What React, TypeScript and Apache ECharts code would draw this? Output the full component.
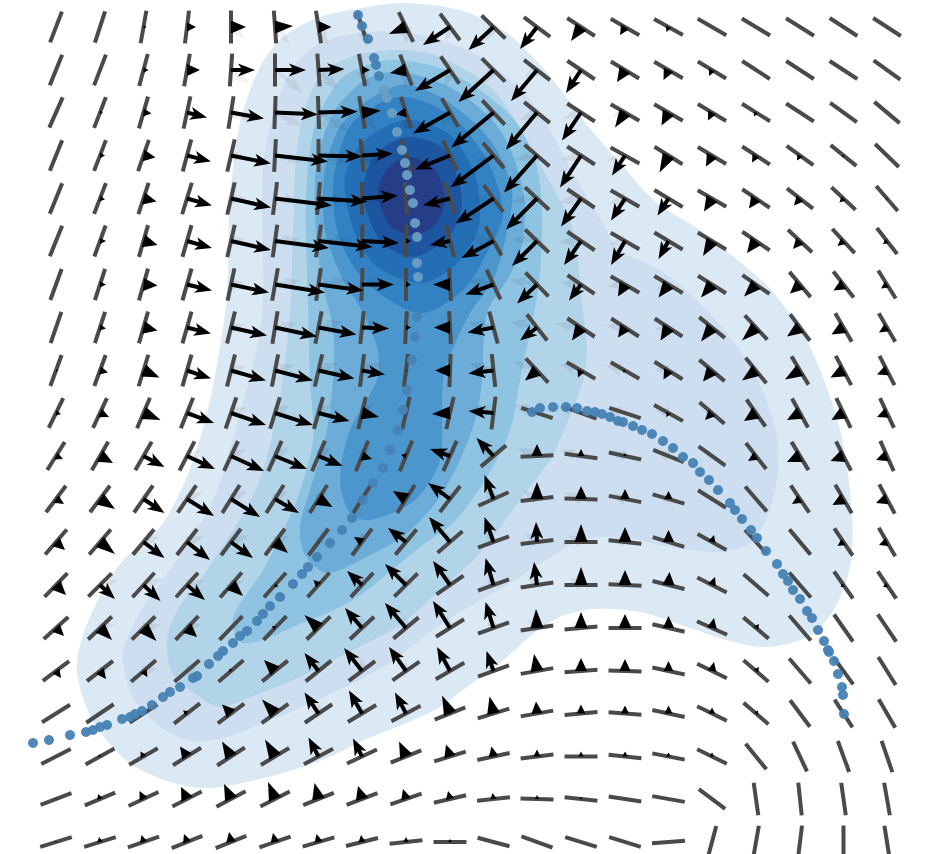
import React, { useEffect, useRef } from "react";
import * as echarts from "echarts";

const colX = [56, 100, 143.5, 187, 231, 275, 318.5, 362, 406, 450, 493.5, 537, 581, 625, 668.5, 712, 756, 800, 843.5, 887];
const rowY = [27, 70, 112.5, 155.5, 198.5, 241, 284.5, 327.5, 370.5, 413, 456, 499, 542, 585, 628, 671, 713.5, 756.5, 799, 842];

const lineAngle = [
  [69,72,80,83,90,-86,-81,-72,-64,-53,-44,-37,-33,-30,-29,-30,-31,-32,-33,-33],
  [68,69,75,80,86,90,-86,-79,-69,-56,-45,-38,-34,-31,-30,-31,-33,-33,-33,-36],
  [66,69,74,78,81,88,-88,-80,-72,-60,-47,-39,-33,-30,-30,-31,-32,-33,-36,-40],
  [68,69,71,75,77,87,90,-85,-74,-65,-50,-41,-33,-29,-32,-31,-33,-36,-39,-44],
  [68,69,72,73,77,83,85,90,-86,-73,-54,-43,-34,-30,-31,-30,-34,-38,-43,-49],
  [68,70,74,74,77,82,81,88,88,-76,-61,-44,-34,-30,-31,-31,-34,-43,-47,-52],
  [70,72,74,74,78,80,82,88,90,-87,-65,-46,-35,-30,-31,-32,-35,-50,-52,-58],
  [71,72,74,74,76,81,79,84,87,-87,-75,-52,-34,-33,-33,-39,-47,-53,-60,-60],
  [70,70,73,74,76,79,77,83,83,88,-84,-47,-30,-30,-32,-40,-51,-59,-62,-63],
  [64,65,67,68,71,73,74,77,77,77,83,-18,-20,-18,-29,-41,-55,-61,-64,-65],
  [58,60,60,63,65,66,67,68,68,66,40,3,-8,-12,-22,-36,-52,-59,-63,-66],
  [53,53,55,56,58,58,58,58,58,52,24,7,-2,-11,-16,-32,-49,-56,-60,-62],
  [49,49,50,52,53,53,53,53,50,41,20,7,0,-6,-17,-29,-48,-50,-56,-60],
  [46,45,48,48,49,48,48,47,45,35,20,9,0,-3,-14,-27,-41,-49,-55,-56],
  [42,44,45,46,46,46,44,43,40,32,20,9,5,0,-13,-24,-40,-49,-55,-56],
  [37,38,41,41,41,39,39,37,35,30,20,10,4,-2,-12,-26,-41,-49,-54,-58],
  [32,34,33,38,37,36,34,31,28,22,17,10,5,-4,-12,-26,-41,-53,-57,-60],
  [27,29,30,32,33,31,28,25,22,17,12,7,0,-6,-11,-26,-51,-65,-70,-71],
  [21,23,25,27,28,27,22,21,19,13,6,-2,-6,-9,-10,-37,-82,-84,-82,-80],
  [17,17,19,22,22,19,16,14,6,0,-15,-20,-17,-17,4,75,80,83,90,-81],
];

const arrowU = [
  [0,0,3,9,15,18,13,0,-17,-27,-25,-17,-10,-5,-2,0,0,0,0,0],
  [0,0,5,13,24,31,26,8,-16,-35,-35,-26,-15,-8,-5,-3,0,0,0,0],
  [0,3,8,20,33,43,39,19,-10,-37,-42,-31,-19,-10,-7,-4,-2,0,0,0],
  [0,5,12,24,40,53,44,31,0,-35,-43,-33,-21,-13,-9,-6,-4,-3,-1,0],
  [0,5,13,25,40,57,49,36,1,-27,-38,-31,-20,-14,-11,-8,-7,-6,-4,-1],
  [0,6,14,25,40,54,54,37,5,-20,-32,-25,-17,-14,-10,-9,-9,-7,-6,-4],
  [0,6,14,25,38,50,45,32,5,-17,-28,-20,-12,-7,-10,-11,-12,-10,-10,-6],
  [0,6,14,24,36,42,38,27,5,-16,-26,-17,-9,-7,-8,-11,-14,-13,-12,-8],
  [2,8,16,24,35,38,36,23,1,-15,-25,-12,-3,-2,-5,-9,-14,-15,-13,-10],
  [5,9,17,27,35,38,31,17,0,-18,-25,0,0,0,-2,-7,-12,-13,-12,-10],
  [7,13,21,28,33,32,24,10,-5,-20,-17,0,0,0,0,0,-8,-13,-13,-11],
  [8,15,21,27,29,24,14,-2,-13,-22,-9,0,0,0,0,0,0,-8,-11,-11],
  [9,15,21,23,22,13,1,-8,-18,-21,-9,-1,0,0,0,2,0,0,-6,-8],
  [10,15,17,18,12,3,-5,-15,-21,-17,-8,-3,0,0,1,3,0,0,-3,-4],
  [8,12,13,10,0,-3,-14,-17,-21,-17,-8,-1,0,0,0,2,3,0,0,0],
  [5,6,4,0,-2,-11,-14,-18,-17,-13,-7,-3,0,0,0,2,3,0,0,0],
  [0,0,0,-4,-9,-13,-14,-13,-11,-8,-4,-1,0,0,0,0,2,0,0,0],
  [0,-1,-3,-7,-9,-10,-10,-9,-7,-4,-2,0,0,0,0,0,0,0,0,0],
  [0,-2,-4,-6,-7,-7,-4,-4,-3,-2,-1,0,0,0,0,0,0,0,0,0],
  [0,-1,-2,-3,-2,-2,-2,-1,0,0,0,0,0,0,0,0,0,0,0,0],
];

const arrowV = [
  [0,0,0,0,0,1,0,0,-7,-18,-23,-22,-14,-8,-5,0,0,0,0,0],
  [0,0,0,0,0,0,1,0,-3,-21,-32,-31,-23,-12,-10,-6,0,0,0,0],
  [0,0,-1,-5,-6,-2,1,2,-2,-21,-35,-37,-28,-15,-13,-8,-4,0,0,0],
  [0,0,-2,-6,-8,-6,-1,2,0,-14,-32,-37,-32,-20,-17,-11,-7,-5,-2,0],
  [0,-1,-3,-7,-9,-7,-3,3,0,-7,-25,-31,-28,-22,-17,-13,-10,-7,-4,-1],
  [0,0,-4,-7,-9,-7,-6,-2,0,-4,-17,-25,-24,-24,-18,-15,-12,-8,-5,-3],
  [0,0,-1,-6,-8,-8,-6,0,0,0,-10,-19,-16,-12,-13,-13,-12,-9,-6,-4],
  [0,-1,-3,-6,-8,-9,-7,-1,0,0,-5,-13,-13,-10,-13,-14,-13,-9,-7,-5],
  [0,-2,-7,-8,-10,-10,-8,-4,0,0,-3,-10,-7,-2,-9,-11,-10,-9,-7,-4],
  [-1,-4,-7,-10,-12,-12,-8,-4,0,-1,2,0,0,0,-4,-7,-8,-7,-7,-4],
  [-3,-7,-11,-13,-15,-13,-10,-3,1,7,18,12,7,3,0,0,-5,-6,-5,-4],
  [-5,-10,-14,-17,-18,-14,-8,3,8,16,24,17,13,10,8,0,0,-5,-6,-4],
  [-8,-12,-16,-18,-16,-11,0,5,14,25,25,20,18,15,12,7,0,0,-4,-3],
  [-10,-14,-16,-15,-11,-2,5,14,21,24,27,23,18,15,13,8,0,0,-2,-2],
  [-8,-12,-13,-9,0,2,13,20,25,27,26,19,16,14,12,10,4,0,0,0],
  [-7,-8,-6,0,2,11,18,23,24,24,20,17,13,12,10,9,4,0,0,0],
  [0,0,0,3,9,14,21,23,21,18,17,12,9,8,8,6,3,0,0,0],
  [0,2,5,10,15,17,19,18,15,12,10,7,5,5,4,4,0,0,0,0],
  [1,5,8,12,15,17,16,13,10,8,6,4,2,0,0,0,0,0,0,0],
  [1,5,7,8,10,9,8,7,5,3,0,0,0,0,0,0,0,0,0,0],
];

const ghostU = [
  [0,0,0,0,13,15,10,5,0,-4,-8,-6,-3],
  [0,0,0,5,18,27,20,8,0,-5,-10,-14,-14,-8],
  [0,0,0,8,18,27,30,15,0,-8,-14,-18,-18,-14,-6],
  [0,0,0,8,16,28,30,18,5,-12,-20,-22,-20,-18,-8],
  [0,0,0,10,16,26,30,22,6,-12,-22,-25,-22,-18,-8,-2],
  [0,0,0,10,14,25,32,22,6,-14,-25,-25,-22,-18,-10,-4],
  [0,0,0,12,14,25,30,22,6,-14,-25,-27,-22,-18,-12,-5],
  [0,0,0,12,14,22,25,22,6,-14,-25,-27,-25,-20,-14,-8,-3],
  [0,0,0,12,16,20,20,20,5,-12,-24,-24,-22,-20,-14,-8,-3],
  [0,0,4,14,16,15,15,12,4,-10,-20,-24,-25,-20,-14,-8,-3],
  [0,4,8,14,16,14,12,8,0,-5,-14,-20,-22,-18,-12,-7,-3],
  [3,8,12,16,16,14,8,3,-2,-6,-10,-15,-17,-15,-10,-5,-2],
  [5,12,17,18,18,14,5,0,-2,-4,-8,-13,-14,-12,-7,-3],
  [9,18,20,18,12,5,1,0,-1,-2,-6,-10,-11,-10,-5],
  [8,15,18,14,5,2,0,0,-2,-3,-6,-9,-8,-5,-3],
  [6,12,14,10,3,0,0,0,-1,-2,-4,-6,-6,-3],
  [0,0,5,8,4,2,0,0,-1,-1,-2,-3,-3],
  [0,5,8,6,2,1,0,0,0,0,0],
  [0,5,6,4,2,0],
  [0,3,3,2,0],
];

const ghostV = [
  [0,0,0,0,-11,-17,-18,-20,-18,-15,-14,-8,-3],
  [0,0,0,-3,-14,-22,-20,-18,-20,-18,-14,-8,-5,-3],
  [0,0,0,-3,-8,-14,-18,-18,-20,-15,-12,-8,-6,-4,-2],
  [0,0,0,-2,-3,-6,-8,-8,-8,-7,-6,-4,-4,-5,-6],
  [0,0,0,-3,0,-2,-2,-2,-2,-1,-2,-3,-4,-6,-7,-3],
  [0,0,0,-2,2,2,2,1,0,1,3,2,-1,-4,-6,-3],
  [0,0,0,-1,2,4,4,3,0,2,4,5,2,-2,-5,-3],
  [0,0,0,1,3,4,6,4,0,3,5,6,4,2,-2,-3,-2],
  [0,0,0,2,4,6,8,7,0,5,7,9,7,5,2,0,0],
  [0,0,2,4,6,8,10,10,2,5,8,8,7,5,3,1,0],
  [0,2,4,6,7,9,9,9,5,8,8,8,6,5,4,2,1],
  [1,3,5,7,8,9,10,8,8,10,10,9,7,5,3,2,0],
  [2,4,5,6,7,6,10,10,10,10,10,9,7,5,3,1],
  [2,5,6,5,4,3,5,10,10,10,12,10,7,5,2],
  [2,4,3,4,2,3,8,12,12,12,11,8,6,5,2],
  [3,3,3,4,5,8,10,12,10,9,9,7,6,3],
  [0,0,3,5,8,10,11,10,7,6,5,4,3],
  [0,3,5,8,10,8,7,6,4,3,1],
  [0,3,5,7,7,5],
  [0,3,3,4,3],
];

const level1 = [[400,3],[433,5],[460,10],[483,19],[507,33],[533,57],[553,80],[583,120],[620,163],[657,203],[700,230],[740,262],[773,292],[810,347],[840,430],[852,513],[850,567],[833,611],[807,637],[767,647],[730,641],[687,627],[640,612],[593,609],[560,617],[533,634],[507,657],[467,687],[433,711],[367,739],[320,761],[260,779],[207,788],[167,781],[127,761],[93,721],[77,671],[87,624],[120,564],[160,527],[187,477],[207,413],[220,347],[227,295],[230,200],[240,123],[260,67],[283,37],[320,17],[367,7]];
const level2 = [[400,32],[433,38],[480,57],[533,103],[577,180],[597,213],[620,250],[660,270],[700,303],[730,337],[757,377],[777,437],[777,480],[767,517],[750,543],[720,552],[670,547],[620,537],[580,540],[567,547],[520,577],[493,593],[440,625],[383,667],[300,708],[260,724],[227,737],[190,741],[157,724],[133,697],[123,654],[143,607],[170,570],[213,500],[240,413],[257,347],[263,300],[263,167],[277,103],[293,67],[320,43],[360,33]];
const level3 = [[400,50],[440,57],[490,87],[517,123],[545,173],[573,230],[583,313],[587,347],[583,380],[567,423],[550,460],[520,500],[480,553],[440,590],[400,625],[353,650],[300,677],[250,697],[220,707],[200,697],[173,674],[167,641],[177,611],[207,570],[257,487],[280,397],[290,313],[293,233],[298,140],[317,80],[350,57]];
const level4 = [[400,60],[450,72],[510,115],[535,160],[542,215],[538,290],[520,380],[510,430],[487,477],[453,523],[420,547],[353,600],[293,627],[263,640],[240,642],[233,618],[263,570],[285,527],[297,500],[313,440],[310,380],[308,300],[306,200],[315,125],[340,80],[370,64]];
const level5 = [[400,72],[455,90],[500,130],[523,190],[523,240],[510,275],[487,313],[482,380],[477,413],[463,453],[440,497],[405,535],[370,555],[327,573],[305,555],[300,527],[310,490],[325,440],[333,380],[333,330],[322,280],[316,230],[316,170],[332,115],[365,80]];
const level6 = [[400,85],[445,100],[490,140],[512,190],[505,240],[493,280],[470,313],[445,370],[442,400],[440,460],[415,500],[370,520],[350,513],[340,480],[350,430],[377,380],[377,347],[360,307],[343,280],[325,230],[325,170],[345,120]];
const level7 = [[400,97],[450,115],[487,160],[503,213],[490,247],[463,290],[420,313],[367,283],[340,240],[333,190],[340,150],[355,120]];
const level8 = [[407,120],[450,135],[475,175],[480,215],[475,237],[453,267],[420,283],[375,265],[352,225],[345,177],[365,140]];
const level9 = [[407,137],[445,150],[462,200],[450,235],[413,257],[380,240],[363,193],[375,155]];
const level10 = [[410,157],[435,170],[445,200],[435,225],[413,235],[390,225],[378,193],[388,168]];
const contourLevels = [level1, level2, level3, level4, level5, level6, level7, level8, level9, level10];
const contourColors = ["#dbe9f4", "#cddef0", "#b1d4e9", "#8ec3e2", "#6cacd9", "#4b96cd", "#3282c3", "#236eb4", "#1e55a0", "#263e87"];

const stemDots = [[358,15],[362,26],[368,39],[374,58],[376,65],[379,76],[308,567],[317,557],[330,543],[342,530],[352,518],[363,500],[373,483],[383,468],[390,450],[398,430],[403,410],[407,390],[412,360],[415,337],[417,317],[302,574],[293,584],[280,597],[270,606],[263,614],[257,621],[247,631],[240,636],[233,643],[223,651],[218,656],[209,664],[197,676],[193,678],[180,687],[170,692],[163,697],[152,705],[142,711],[135,714],[130,717],[122,719],[107,725],[100,727],[93,730],[86,732],[70,735],[49,740],[33,743]];
const coreDots = [[384,90],[387,98],[392,113],[397,132],[402,150],[405,163],[407,175],[410,190],[413,203],[415,223],[417,237],[417,263],[418,277]];
const branchDots = [[532,412],[540,408],[553,407],[566,407],[577,408],[587,411],[595,412],[602,414],[610,417],[618,421],[623,422],[633,426],[642,430],[652,434],[663,441],[673,448],[683,457],[693,463],[700,472],[709,480],[718,490],[730,503],[735,510],[742,519],[751,530],[757,538],[766,551],[777,564],[783,574],[788,581],[793,590],[800,599],[807,611],[812,618],[818,630],[824,641],[828,650],[829,652],[834,661],[838,674],[842,687],[843,695],[844,714]];

const cells: number[][] = [];
rowY.forEach((y, r) => colX.forEach((x, c) => cells.push([x, y, r, c])));

function arrowPoints(cx: number, cy: number, u: number, v: number, wide: number) {
  const len = Math.hypot(u, v);
  const ux = u / len;
  const uy = -v / len;
  const nx = -uy;
  const ny = ux;
  const at = (along: number, side: number) => [cx + ux * along + nx * side, cy + uy * along + ny * side];
  const headLen = 17;
  if (len < 20) {
    const half = Math.min(wide, 0.6 + len * 0.42);
    return [at(0, half), at(len, 0), at(0, -half)];
  }
  return [
    at(0, 2), at(len - headLen + 3, 2), at(len - headLen, wide), at(len, 0),
    at(len - headLen, -wide), at(len - headLen + 3, -2), at(0, -2),
  ];
}

export default function App() {
  const ref = useRef<HTMLDivElement>(null);
  useEffect(() => {
    const chart = echarts.init(ref.current!, null, { renderer: "svg" });
    const base = { type: "custom", coordinateSystem: "cartesian2d", silent: true, clip: false };
    const arrowSeries = (U: number[][], V: number[][], fill: string, z: number, wide: number) => ({
      ...base,
      z,
      data: cells,
      renderItem: (_p: any, api: any) => {
        const r = api.value(2);
        const c = api.value(3);
        const u = (U[r] && U[r][c]) || 0;
        const v = (V[r] && V[r][c]) || 0;
        if (!u && !v) return { type: "group", children: [] };
        const p = api.coord([api.value(0), api.value(1)]);
        return { type: "polygon", shape: { points: arrowPoints(p[0], p[1], u, v, wide) }, style: { fill } };
      },
    });
    const dots = (data: number[][], color: string) => ({
      type: "scatter",
      z: 10,
      silent: true,
      symbolSize: 10,
      data,
      itemStyle: { color, opacity: 0.95 },
    });
    chart.setOption({
      animation: false,
      backgroundColor: "#ffffff",
      grid: { left: 0, right: 0, top: 0, bottom: 0 },
      xAxis: { type: "value", min: 0, max: 952, show: false },
      yAxis: { type: "value", min: 0, max: 854, inverse: true, show: false },
      series: [
        {
          ...base,
          z: 1,
          data: contourLevels.map((_, i) => [i]),
          encode: { x: 0 },
          renderItem: (_p: any, api: any) => {
            const i = api.value(0);
            return {
              type: "polygon",
              shape: { points: contourLevels[i].map((q) => api.coord(q)), smooth: 0.3 },
              style: { fill: contourColors[i] },
            };
          },
        },
        arrowSeries(ghostU, ghostV, "rgba(0,0,0,0.06)", 2, 6),
        {
          ...base,
          z: 3,
          data: cells,
          renderItem: (_p: any, api: any) => {
            const p = api.coord([api.value(0), api.value(1)]);
            const a = (lineAngle[api.value(2)][api.value(3)] * Math.PI) / 180;
            const dx = Math.cos(a) * 16.5;
            const dy = Math.sin(a) * 16.5;
            return {
              type: "line",
              shape: { x1: p[0] - dx, y1: p[1] + dy, x2: p[0] + dx, y2: p[1] - dy },
              style: { stroke: "#4a4a4a", lineWidth: 4 },
            };
          },
        },
        arrowSeries(arrowU, arrowV, "#000000", 4, 6.5),
        dots(stemDots, "#4682b4"),
        dots(branchDots, "#4682b4"),
        dots(coreDots, "#6a9dc4"),
      ],
    });
    return () => chart.dispose();
  }, []);
  return <div ref={ref} style={{ position: "absolute", left: 0, top: 0, width: 952, height: 854 }} />;
}
